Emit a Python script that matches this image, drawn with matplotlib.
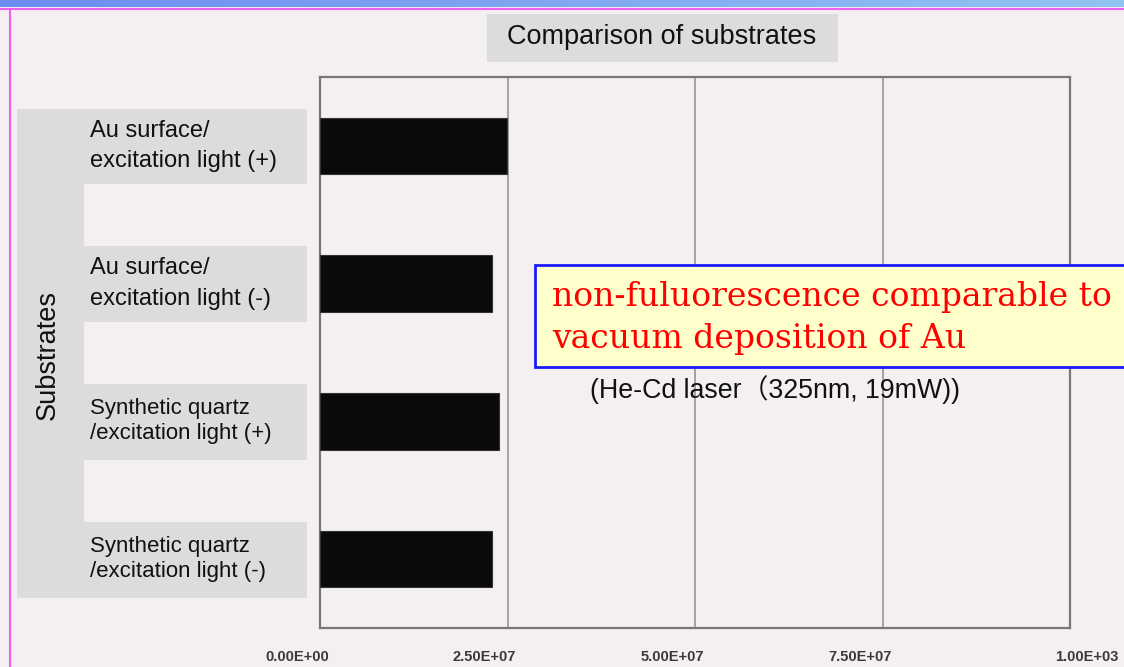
import numpy as np
import matplotlib.pyplot as plt
from matplotlib.patches import Rectangle
from matplotlib.colors import LinearSegmentedColormap
from matplotlib.transforms import blended_transform_factory, ScaledTranslation

categories = [
    "Au surface/\nexcitation light (+)",
    "Au surface/\nexcitation light (-)",
    "Synthetic quartz\n/excitation light (+)",
    "Synthetic quartz\n/excitation light (-)",
]
values = [2.49e7, 2.29e7, 2.38e7, 2.29e7]
tick_values = [0, 2.5e7, 5.0e7, 7.5e7, 1.0e8]
tick_labels = ["0.00E+00", "2.50E+07", "5.00E+07", "7.50E+07", "1.00E+03"]

W, H = 1124, 667
bg = "#f4eff2"


def fx(px):
    return px / W


def fy(py):
    return 1 - py / H


fig = plt.figure(figsize=(W / 100, H / 100), dpi=100, facecolor=bg)

# slide decorations
grad = np.linspace(0, 1, 256).reshape(1, -1)
band = fig.add_axes([0, fy(7), 1, 7 / H])
band.imshow(grad, aspect="auto", cmap=LinearSegmentedColormap.from_list("b", ["#6d8cf0", "#92c4f2"]))
band.axis("off")
fig.add_artist(plt.Line2D([0, 1], [fy(9), fy(9)], color="#f060f0", lw=1.5))
fig.add_artist(plt.Line2D([fx(10), fx(10)], [0, fy(9)], color="#f060f0", lw=1.5))

ax = fig.add_axes([fx(320), fy(628), fx(750), 551 / H])
ax.set_facecolor(bg)

y = np.arange(len(categories))
ax.barh(y, values, height=0.41, color="#0a0a0a", edgecolor="#333333", lw=0.8, zorder=3)
ax.set_ylim(3.5, -0.5)
ax.set_xlim(0, 1.0e8)
ax.set_yticks([])
ax.set_xticks(tick_values)
ax.set_xticklabels(tick_labels, fontsize=10.5, fontweight="bold", color="#3a3a3a",
                   family="Liberation Sans")
ax.tick_params(axis="x", length=0, pad=16)
offsets = [-23, -23, -23, -22, 17]
for lab, dx in zip(ax.get_xticklabels(), offsets):
    lab.set_transform(lab.get_transform() + ScaledTranslation(dx / 100, 0, fig.dpi_scale_trans))
ax.grid(axis="x", color="#959595", lw=1.2, zorder=1)
for s in ax.spines.values():
    s.set_color("#777777")
    s.set_linewidth(1.6)

# grey label panel
fig.add_artist(Rectangle((fx(17), fy(598)), fx(67), (598 - 111) / H,
                         transform=fig.transFigure, facecolor="#dcdcdc", edgecolor="none"))
tr = blended_transform_factory(fig.transFigure, ax.transData)
for i, cat in enumerate(categories):
    fig.add_artist(Rectangle((fx(17), i - 0.27), fx(290), 0.55, transform=tr,
                             facecolor="#dcdcdc", edgecolor="none"))
    size = 17 if i < 2 else 16
    fig.text(fx(90), i, cat, transform=tr, ha="left", va="center", fontsize=size,
             family="Liberation Sans", linespacing=1.5 if i < 2 else 1.25, color="#111111")

fig.text(fx(48), fy(355), "Substrates", rotation=90, ha="center", va="center",
         fontsize=19.5, family="Liberation Sans", color="#111111")

# title box
fig.add_artist(Rectangle((fx(487), fy(62)), fx(351), 48 / H, transform=fig.transFigure,
                         facecolor="#dcdcdc", edgecolor="none"))
fig.text(fx(662), fy(37), "Comparison of substrates", ha="center", va="center",
         fontsize=19.5, family="Liberation Sans", color="#111111")

# annotation
fig.add_artist(Rectangle((fx(535), fy(367)), fx(600), 102 / H, transform=fig.transFigure,
                         facecolor="#ffffcc", edgecolor="#1a1aff", lw=2, zorder=5))
fig.text(fx(552), fy(318), "non-fuluorescence comparable to\nvacuum deposition of Au",
         ha="left", va="center", fontsize=23.8, family="DejaVu Serif", color="#ff0000",
         linespacing=1.38, zorder=6)
fig.text(fx(590), fy(390), "(He-Cd laser\uff08325nm, 19mW))", ha="left", va="center",
         fontsize=19.3, family=["Liberation Sans", "Noto Sans CJK JP"], color="#111111")

fig.savefig("out.png", dpi=100, facecolor=bg)
